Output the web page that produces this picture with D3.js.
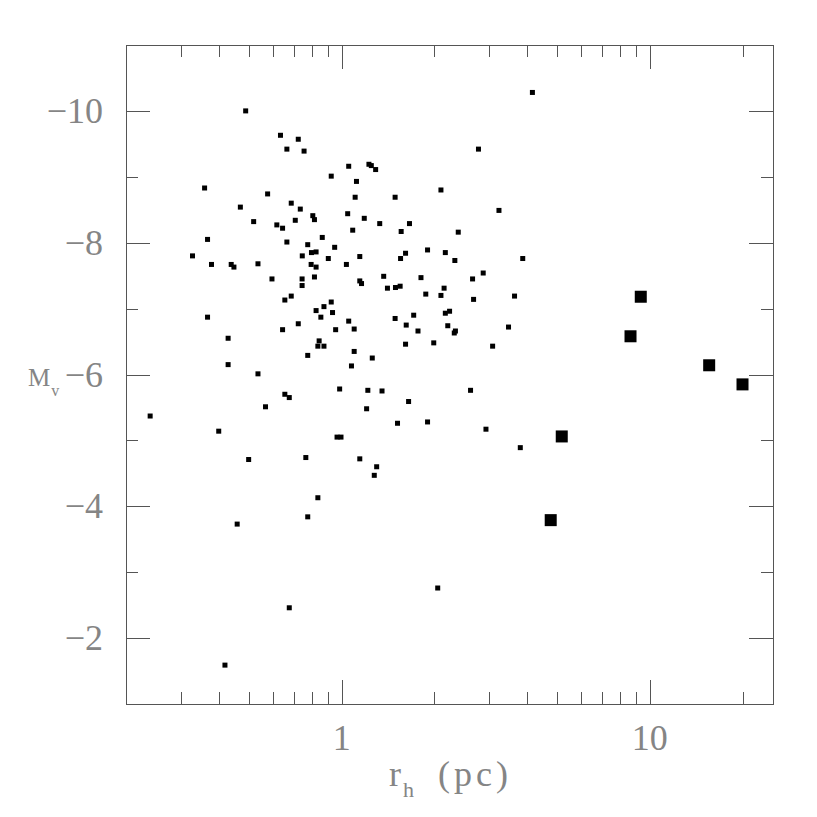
<!DOCTYPE html>
<html>
<head>
<meta charset="utf-8">
<script src="https://cdn.jsdelivr.net/npm/d3@7"></script>
<style>
  html, body { margin: 0; padding: 0; background: #fff; }
  svg { display: block; }
  text { font-family: "Liberation Serif", "DejaVu Serif", serif; fill: #858585; }
</style>
</head>
<body>
<svg id="chart" width="817" height="817"></svg>
<script>
// ---- data: half-light radius r_h (pc) and absolute magnitude M_V ----
const rhSmall = [
  0.488, 0.633, 0.723, 0.664, 0.755, 2.78, 4.16, 1.054, 1.226, 1.248,
  1.289, 0.925, 1.117, 0.359, 0.575, 1.106, 1.491, 2.10, 0.469, 0.686,
  0.734, 3.24, 1.046, 1.184, 0.806, 0.816, 0.518, 0.616, 0.643, 0.707,
  1.329, 1.66, 1.086, 1.560, 2.39, 0.367, 0.865, 0.664, 0.776, 0.949,
  0.328, 0.745, 0.798, 0.826, 0.905, 1.145, 1.612, 1.553, 1.90, 2.17,
  2.33, 3.87, 0.378, 0.438, 0.447, 0.535, 0.796, 0.826, 1.036, 0.594,
  0.744, 0.744, 0.816, 2.88, 2.66, 1.369, 1.809, 1.145, 1.160, 1.408,
  1.495, 1.548, 2.15, 1.875, 2.10, 3.64, 2.68, 0.654, 0.686, 0.367,
  0.925, 0.876, 0.826, 0.934, 0.856, 1.054, 0.723, 0.643, 0.956, 1.098,
  0.428, 0.845, 0.837, 0.876, 0.776, 1.098, 1.076, 0.428, 0.535, 1.491,
  1.713, 2.17, 2.24, 1.620, 1.769, 2.21, 2.34, 2.32, 3.48, 1.612,
  1.99, 3.09, 1.257, 0.985, 1.216, 1.352, 2.62, 0.654, 0.676, 0.566,
  0.239, 0.399, 1.649, 1.205, 1.518, 1.90, 2.94, 0.966, 0.995, 3.80,
  0.765, 0.499, 1.145, 1.299, 1.276, 0.837, 0.776, 0.458, 2.05, 0.676,
  0.418
];
const mvSmall = [
  -10.00, -9.63, -9.57, -9.42, -9.39, -9.42, -10.28, -9.16, -9.19, -9.17,
  -9.11, -9.01, -8.93, -8.83, -8.74, -8.69, -8.69, -8.80, -8.54, -8.60,
  -8.51, -8.49, -8.44, -8.37, -8.41, -8.35, -8.32, -8.27, -8.22, -8.34,
  -8.29, -8.29, -8.19, -8.17, -8.16, -8.05, -8.08, -8.01, -7.97, -7.93,
  -7.80, -7.80, -7.85, -7.86, -7.76, -7.79, -7.84, -7.76, -7.89, -7.85,
  -7.73, -7.76, -7.67, -7.67, -7.63, -7.68, -7.67, -7.63, -7.67, -7.45,
  -7.45, -7.35, -7.48, -7.54, -7.45, -7.49, -7.47, -7.42, -7.38, -7.31,
  -7.32, -7.34, -7.31, -7.22, -7.20, -7.19, -7.14, -7.13, -7.19, -6.87,
  -7.10, -7.03, -6.97, -6.94, -6.87, -6.81, -6.77, -6.68, -6.68, -6.69,
  -6.55, -6.51, -6.43, -6.43, -6.29, -6.35, -6.13, -6.15, -6.01, -6.85,
  -6.90, -6.93, -6.96, -6.75, -6.66, -6.74, -6.66, -6.63, -6.72, -6.46,
  -6.48, -6.43, -6.25, -5.78, -5.76, -5.75, -5.76, -5.70, -5.65, -5.51,
  -5.37, -5.14, -5.59, -5.48, -5.26, -5.28, -5.17, -5.05, -5.05, -4.89,
  -4.74, -4.71, -4.72, -4.60, -4.47, -4.13, -3.84, -3.73, -2.76, -2.46,
  -1.59
];
const rhLarge = [9.35, 8.66, 15.59, 20.0, 5.18, 4.77];
const mvLarge = [-7.18, -6.58, -6.14, -5.85, -5.06, -3.79];

const xMajorTicks = [1, 10];
const xTickLabels = ["1", "10"];
const yMajorTicks = [-10, -8, -6, -4, -2];
const yMinorTicks = [-9, -7, -5, -3];
const yTickLabels = ["\u221210", "\u22128", "\u22126", "\u22124", "\u22122"];

// ---- layout ----
const L = 126, R = 773, T = 45, B = 704;
const svg = d3.select("#chart");

const x = d3.scaleLog().domain([Math.pow(10, -0.7), Math.pow(10, 1.4)]).range([L, R]);
const y = d3.scaleLinear().domain([-1, -11]).range([B, T]);

// minor log ticks
const xMinorTicks = [];
[0.1, 1, 10].forEach(dec => {
  for (let k = 2; k <= 9; k++) {
    const v = dec * k;
    if (v >= x.domain()[0] && v <= x.domain()[1]) xMinorTicks.push(v);
  }
});

const axisColor = "#555";
const g = svg.append("g").attr("shape-rendering", "crispEdges");

// frame
g.append("rect")
  .attr("x", L + 0.5).attr("y", T + 0.5)
  .attr("width", R - L).attr("height", B - T)
  .attr("fill", "none").attr("stroke", axisColor).attr("stroke-width", 1);

const MAJ = 24, MIN = 12;
function xTick(v, len) {
  const px = Math.round(x(v)) + 0.5;
  g.append("line").attr("x1", px).attr("x2", px).attr("y1", B).attr("y2", B - len)
    .attr("stroke", axisColor);
  g.append("line").attr("x1", px).attr("x2", px).attr("y1", T).attr("y2", T + len)
    .attr("stroke", axisColor);
}
function yTick(v, len) {
  const py = Math.round(y(v)) + 0.5;
  g.append("line").attr("x1", L).attr("x2", L + len).attr("y1", py).attr("y2", py)
    .attr("stroke", axisColor);
  g.append("line").attr("x1", R).attr("x2", R - len).attr("y1", py).attr("y2", py)
    .attr("stroke", axisColor);
}
xMinorTicks.forEach(v => xTick(v, MIN));
xMajorTicks.forEach(v => xTick(v, MAJ));
yMinorTicks.forEach(v => yTick(v, MIN));
yMajorTicks.forEach(v => yTick(v, MAJ));

// tick labels
svg.append("g").selectAll("text").data(xMajorTicks).join("text")
  .attr("x", d => x(d)).attr("y", 750)
  .attr("text-anchor", "middle").attr("font-size", 36)
  .text((d, i) => xTickLabels[i]);

svg.append("g").selectAll("text").data(yMajorTicks).join("text")
  .attr("x", 103).attr("y", d => y(d) + 12)
  .attr("text-anchor", "end").attr("font-size", 36)
  .text((d, i) => yTickLabels[i]);

// axis titles
const yt = svg.append("text").attr("x", 28).attr("y", 386).attr("font-size", 25);
yt.append("tspan").text("M");
yt.append("tspan").attr("font-size", 16).attr("dx", 1).attr("dy", 10).text("v");

const xt = svg.append("text").attr("x", 389).attr("y", 786).attr("font-size", 36);
xt.append("tspan").text("r");
xt.append("tspan").attr("font-size", 22).attr("dx", 2).attr("dy", 11).text("h");
xt.append("tspan").attr("dx", 24).attr("dy", -11).attr("letter-spacing", 4).text("(pc)");

// points
const small = rhSmall.map((r, i) => ({ r, m: mvSmall[i] }));
const large = rhLarge.map((r, i) => ({ r, m: mvLarge[i] }));
const S = 5, BIG = 12;
svg.append("g").selectAll("rect").data(small).join("rect")
  .attr("x", d => x(d.r) - S / 2).attr("y", d => y(d.m) - S / 2)
  .attr("width", S).attr("height", S).attr("fill", "#000");
svg.append("g").selectAll("rect").data(large).join("rect")
  .attr("x", d => x(d.r) - BIG / 2).attr("y", d => y(d.m) - BIG / 2)
  .attr("width", BIG).attr("height", BIG).attr("fill", "#000");
</script>
</body>
</html>
